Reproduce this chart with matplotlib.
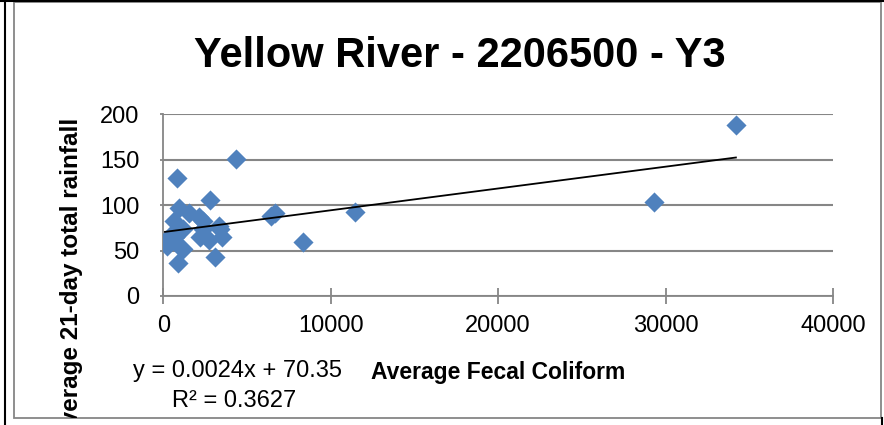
import matplotlib
matplotlib.use("Agg")
import matplotlib.pyplot as plt
from matplotlib import font_manager
from matplotlib.lines import Line2D
from matplotlib.patches import Rectangle

# average fecal coliform (x) and 21-day rainfall (y)
fecal = [34200, 29300, 11450, 6700, 6450, 8350, 4350, 800, 2800, 950,
         1550, 2150, 650, 2350, 3300, 3400, 2400, 1200, 650, 250,
         100, 200, 1000, 1200, 700, 2200, 2700, 3500, 3100, 850]
rain = [188, 103, 92, 91, 88, 59, 151, 130, 106, 97,
        91, 87, 83, 83, 77, 74, 74, 74, 70, 62,
        60, 55, 54, 52, 65, 65, 62, 65, 43, 36]

# Excel linear trendline
slope = 0.0024
intercept = 70.35
eq_text = "y = 0.0024x + 70.35"
r2_text = "R² = 0.3627"

xticks = [0, 10000, 20000, 30000, 40000]
yticks = [0, 50, 100, 150, 200]

W, H = 884, 425
names = {f.name for f in font_manager.fontManager.ttflist}
if "Liberation Sans Narrow" in names:
    title_font, title_size = "Liberation Sans Narrow", 37
else:
    title_font, title_size = "Liberation Sans", 30

plt.rcParams["font.family"] = ["Liberation Sans", "DejaVu Sans"]

fig = plt.figure(figsize=(W / 100, H / 100), dpi=100)


def fx(px):
    return px / W


def fy(py):
    return 1 - py / H


ax = fig.add_axes([fx(163.3), fy(296), fx(833) - fx(163.3), fy(114.3) - fy(296)])

grey = "#868686"
ax.scatter(fecal, rain, marker="D", s=105, color="#4F81BD", linewidths=0, zorder=3)
tx = [min(fecal), max(fecal)]
ax.plot(tx, [slope * v + intercept for v in tx], color="black", lw=1.3, zorder=4)

ax.set_xlim(0, 40000)
ax.set_ylim(0, 200)
ax.set_xticks(xticks)
ax.set_yticks(yticks)
ax.yaxis.grid(True, color=grey, lw=1.5)
ax.set_axisbelow(True)
for s in ["top", "right"]:
    ax.spines[s].set_visible(False)
for s in ["left", "bottom"]:
    ax.spines[s].set_color(grey)
    ax.spines[s].set_linewidth(1.3)
ax.tick_params(axis="x", direction="inout", length=12, width=1.3, color=grey,
               labelsize=17, pad=8)
ax.tick_params(axis="y", direction="out", length=2, width=1.3, color=grey,
               labelsize=17, pad=15)

fig.text(fx(460), fy(56), "Yellow River - 2206500 - Y3", family=title_font,
         fontsize=title_size, fontweight="bold", ha="center", va="center")
fig.text(fx(498), fy(372), "Average Fecal Coliform", fontsize=16.5,
         fontweight="bold", ha="center", va="center")
fig.text(fx(133), fy(371), eq_text, fontsize=17, ha="left", va="center")
fig.text(fx(172), fy(401), r2_text, fontsize=17, ha="left", va="center")

# chart area frame and the sheet's cell borders
frame = Rectangle((fx(14), fy(418)), fx(881) - fx(14), fy(2) - fy(418),
                  transform=fig.transFigure, fill=False, edgecolor=grey, lw=1.3)
fig.add_artist(frame)
ylab = fig.text(fx(72), fy(279), "Average 21-day total rainfall", fontsize=17.5,
                fontweight="bold", rotation=90, ha="center", va="center")
ylab.set_clip_path(frame)
fig.add_artist(Line2D([0, 1], [fy(1), fy(1)], transform=fig.transFigure,
                      color="black", lw=1.5))
fig.add_artist(Line2D([fx(5), fx(5)], [0, 1], transform=fig.transFigure,
                      color="black", lw=1.5))
fig.add_artist(Line2D([fx(882), fx(882)], [0, fy(418)], transform=fig.transFigure,
                      color="black", lw=1.5))

fig.savefig("out.png", dpi=100)
